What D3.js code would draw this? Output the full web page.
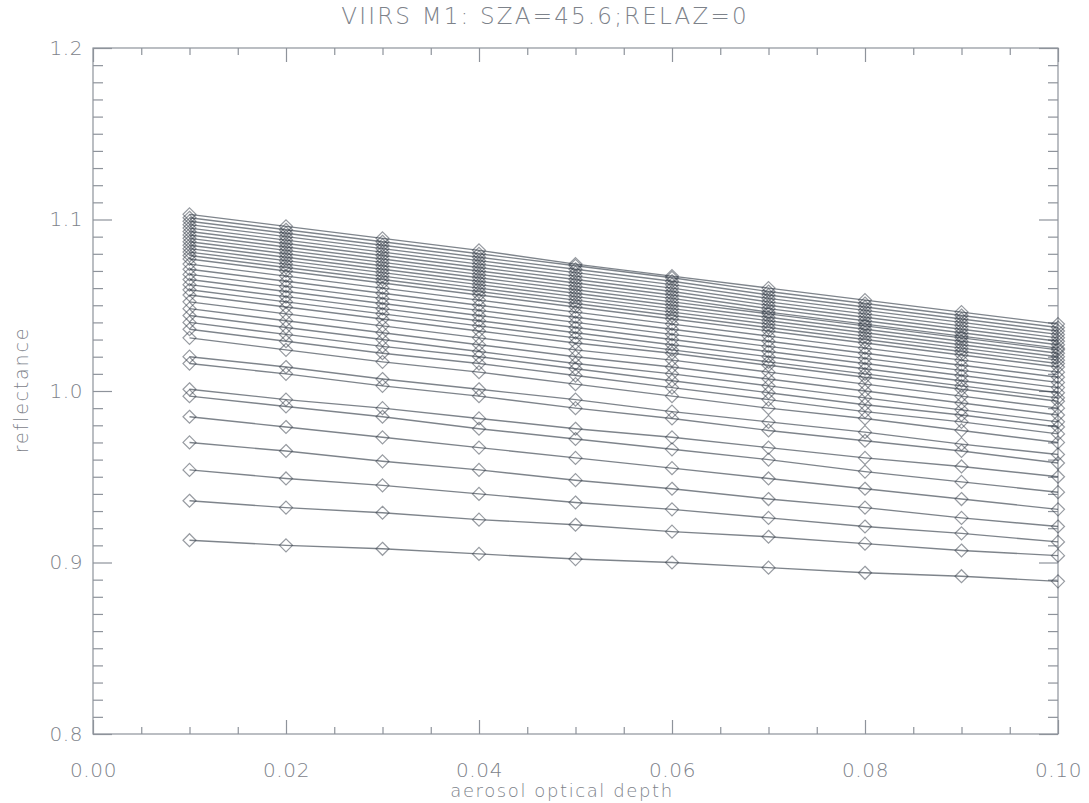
<!DOCTYPE html>
<html><head><meta charset="utf-8">
<script src="https://cdn.jsdelivr.net/npm/d3@7"></script>
<style>
html,body{margin:0;padding:0;background:#fff;}
svg text{font-family:"DejaVu Sans",sans-serif;font-weight:200;fill:#7d828a;}
</style></head>
<body><svg id="c" width="1089" height="803"></svg>
<script>
const title = "VIIRS M1: SZA=45.6;RELAZ=0";
const xLabel = "aerosol optical depth";
const yLabel = "reflectance";
const aod = [0.01,0.02,0.03,0.04,0.05,0.06,0.07,0.08,0.09,0.10];
const xTickValues = [0.00,0.02,0.04,0.06,0.08,0.10];
const xTickLabels = ["0.00","0.02","0.04","0.06","0.08","0.10"];
const yTickValues = [0.8,0.9,1.0,1.1,1.2];
const yTickLabels = ["0.8","0.9","1.0","1.1","1.2"];

// reflectance curves (one per line), read at each AOD
const r01 = [0.913,0.910,0.908,0.905,0.902,0.900,0.897,0.894,0.892,0.889];
const r02 = [0.936,0.932,0.929,0.925,0.922,0.918,0.915,0.911,0.907,0.904];
const r03 = [0.954,0.949,0.945,0.940,0.935,0.931,0.926,0.921,0.917,0.912];
const r04 = [0.970,0.965,0.959,0.954,0.948,0.943,0.937,0.932,0.926,0.921];
const r05 = [0.985,0.979,0.973,0.967,0.961,0.955,0.949,0.943,0.937,0.931];
const r06 = [0.997,0.991,0.985,0.978,0.972,0.966,0.960,0.953,0.947,0.941];
const r07 = [1.001,0.995,0.990,0.984,0.978,0.973,0.967,0.961,0.956,0.950];
const r08 = [1.016,1.010,1.003,0.997,0.990,0.984,0.977,0.971,0.965,0.958];
const r09 = [1.020,1.014,1.007,1.001,0.995,0.988,0.982,0.976,0.969,0.963];
const r10 = [1.031,1.024,1.017,1.011,1.004,0.997,0.990,0.984,0.977,0.970];
const r11 = [1.036,1.029,1.022,1.016,1.009,1.002,0.995,0.988,0.982,0.975];
const r12 = [1.040,1.033,1.026,1.020,1.013,1.006,0.999,0.992,0.986,0.979];
const r13 = [1.044,1.037,1.030,1.023,1.016,1.010,1.003,0.996,0.989,0.982];
const r14 = [1.048,1.041,1.034,1.027,1.020,1.014,1.007,1.000,0.993,0.986];
const r15 = [1.052,1.045,1.038,1.031,1.024,1.018,1.011,1.004,0.997,0.990];
const r16 = [1.056,1.049,1.042,1.035,1.028,1.022,1.015,1.008,1.001,0.994];
const r17 = [1.059,1.052,1.045,1.038,1.031,1.024,1.017,1.010,1.003,0.996];
const r18 = [1.062,1.055,1.048,1.041,1.034,1.027,1.020,1.013,1.006,0.999];
const r19 = [1.065,1.058,1.051,1.044,1.037,1.030,1.023,1.016,1.009,1.002];
const r20 = [1.068,1.061,1.054,1.047,1.040,1.033,1.026,1.019,1.012,1.005];
const r21 = [1.071,1.064,1.057,1.050,1.043,1.036,1.029,1.022,1.015,1.008];
const r22 = [1.074,1.067,1.060,1.053,1.046,1.039,1.032,1.025,1.018,1.011];
const r23 = [1.077,1.070,1.063,1.056,1.049,1.042,1.035,1.028,1.021,1.014];
const r24 = [1.079,1.072,1.065,1.058,1.051,1.044,1.037,1.030,1.023,1.016];
const r25 = [1.081,1.074,1.067,1.060,1.053,1.046,1.039,1.032,1.025,1.018];
const r26 = [1.083,1.076,1.069,1.062,1.055,1.048,1.041,1.034,1.027,1.020];
const r27 = [1.085,1.078,1.071,1.064,1.057,1.050,1.043,1.036,1.029,1.022];
const r28 = [1.087,1.080,1.073,1.066,1.059,1.052,1.045,1.038,1.031,1.024];
const r29 = [1.089,1.082,1.075,1.068,1.061,1.054,1.046,1.039,1.032,1.025];
const r30 = [1.091,1.084,1.077,1.070,1.063,1.056,1.048,1.041,1.034,1.027];
const r31 = [1.093,1.086,1.079,1.072,1.065,1.058,1.050,1.043,1.036,1.029];
const r32 = [1.095,1.088,1.081,1.074,1.067,1.060,1.052,1.045,1.038,1.031];
const r33 = [1.097,1.090,1.083,1.076,1.069,1.062,1.054,1.047,1.040,1.033];
const r34 = [1.099,1.092,1.085,1.078,1.071,1.064,1.056,1.049,1.042,1.035];
const r35 = [1.101,1.094,1.087,1.080,1.073,1.066,1.058,1.051,1.044,1.037];
const r36 = [1.103,1.096,1.089,1.082,1.074,1.067,1.060,1.053,1.046,1.039];
const series = [r01,r02,r03,r04,r05,r06,r07,r08,r09,r10,r11,r12,r13,r14,r15,r16,r17,r18,
                r19,r20,r21,r22,r23,r24,r25,r26,r27,r28,r29,r30,r31,r32,r33,r34,r35,r36];

const svg = d3.select("#c");
const L = 93, R = 1058, T = 48, B = 734;
const x = d3.scaleLinear().domain([0, 0.1]).range([L, R]);
const y = d3.scaleLinear().domain([0.8, 1.2]).range([B, T]);
const axisColor = "#8e939b";
const textColor = "#80858d";

// plot box
svg.append("rect").attr("x", L).attr("y", T).attr("width", R - L).attr("height", B - T)
  .attr("fill", "none").attr("stroke", axisColor).attr("stroke-width", 1.2);

const xMinor = d3.range(0, 0.1001, 0.005).filter(v => Math.abs(v/0.02 - Math.round(v/0.02)) > 1e-6);
const yMinor = d3.range(0.8, 1.2001, 0.01).filter(v => Math.abs(v/0.1 - Math.round(v/0.1)) > 1e-6);

function styleAxis(g){ g.select(".domain").remove(); g.selectAll(".tick line").attr("stroke", axisColor).attr("stroke-width",1.2); }
function styleText(g){ g.selectAll("text").attr("font-size",20).attr("font-family",null).attr("fill",textColor).attr("letter-spacing",0.6); }

// bottom
svg.append("g").attr("transform",`translate(0,${B})`)
  .call(d3.axisBottom(x).tickValues(xTickValues).tickSize(-14).tickPadding(29)
        .tickFormat((d,i)=>xTickLabels[i]))
  .call(styleAxis).call(styleText);
svg.append("g").attr("transform",`translate(0,${B})`)
  .call(d3.axisBottom(x).tickValues(xMinor).tickSize(-7).tickFormat("")).call(styleAxis);
// top
svg.append("g").attr("transform",`translate(0,${T})`)
  .call(d3.axisTop(x).tickValues(xTickValues).tickSize(-14).tickFormat("")).call(styleAxis);
svg.append("g").attr("transform",`translate(0,${T})`)
  .call(d3.axisTop(x).tickValues(xMinor).tickSize(-7).tickFormat("")).call(styleAxis);
// left
svg.append("g").attr("transform",`translate(${L},0)`)
  .call(d3.axisLeft(y).tickValues(yTickValues).tickSize(-19).tickPadding(10)
        .tickFormat((d,i)=>yTickLabels[i]))
  .call(styleAxis).call(styleText);
svg.append("g").attr("transform",`translate(${L},0)`)
  .call(d3.axisLeft(y).tickValues(yMinor).tickSize(-10).tickFormat("")).call(styleAxis);
// right
svg.append("g").attr("transform",`translate(${R},0)`)
  .call(d3.axisRight(y).tickValues(yTickValues).tickSize(-19).tickFormat("")).call(styleAxis);
svg.append("g").attr("transform",`translate(${R},0)`)
  .call(d3.axisRight(y).tickValues(yMinor).tickSize(-10).tickFormat("")).call(styleAxis);

// lines
const line = d3.line().x((d,i)=>x(aod[i])).y(d=>y(d));
const lineColor = "#2f3844";
const gL = svg.append("g");
gL.selectAll("path.s").data(series).join("path")
  .attr("d", line).attr("fill","none").attr("stroke",lineColor)
  .attr("stroke-opacity",0.62).attr("stroke-width",1.4);

// diamond markers
const s = 6.5;
const pts = series.flatMap(sr => sr.map((v,i)=>[aod[i], v]));
gL.selectAll("path.m").data(pts).join("path")
  .attr("d", d => { const cx = x(d[0]), cy = y(d[1]);
      return `M${cx},${cy-s}L${cx+s},${cy}L${cx},${cy+s}L${cx-s},${cy}Z`; })
  .attr("fill","none").attr("stroke",lineColor).attr("stroke-opacity",0.5).attr("stroke-width",1.2);

// titles
svg.append("text").attr("x",545).attr("y",24).attr("text-anchor","middle")
  .attr("font-size",23).attr("letter-spacing",2.2).attr("fill",textColor).text(title);
svg.append("text").attr("x",562).attr("y",797).attr("text-anchor","middle")
  .attr("font-size",18).attr("letter-spacing",1.6).attr("fill",textColor).text(xLabel);
svg.append("text").attr("transform","translate(28,390) rotate(-90)").attr("text-anchor","middle")
  .attr("font-size",19).attr("letter-spacing",1.8).attr("fill",textColor).text(yLabel);
</script></body></html>
